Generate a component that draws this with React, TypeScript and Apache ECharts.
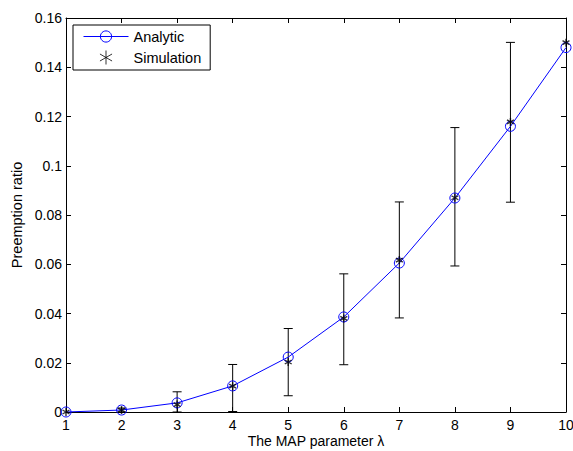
import React, { useEffect, useRef } from "react";
import * as echarts from "echarts";

const lambdas = [1, 2, 3, 4, 5, 6, 7, 8, 9, 10];
const analytic = [0, 0.0008, 0.0037, 0.0106, 0.0223, 0.0386, 0.0605, 0.0869, 0.116, 0.148];
const simulation = [0, 0.0008, 0.003, 0.0105, 0.0203, 0.038, 0.0617, 0.087, 0.1178, 0.150];
const errLow = [0, 0, 0, 0.0002, 0.0066, 0.0192, 0.0382, 0.0593, 0.0852, 0.150];
const errHigh = [0, 0.0016, 0.0082, 0.0193, 0.0339, 0.0561, 0.0853, 0.1155, 0.1501, 0.150];

const FONT = "Liberation Sans, Arial, Helvetica, sans-serif";
const STAR = "path://M5 0 L5 10 M0.67 2.5 L9.33 7.5 M0.67 7.5 L9.33 2.5";

export default function App() {
  const ref = useRef<HTMLDivElement>(null);
  useEffect(() => {
    if (!ref.current) return;
    const chart = echarts.init(ref.current, undefined, { renderer: "svg" });
    const axisCommon = {
      axisLine: { show: true, onZero: false, lineStyle: { color: "#000", width: 1 } },
      axisTick: { show: true, inside: true, length: 5, lineStyle: { color: "#000" } },
      splitLine: { show: false },
    };
    chart.setOption({
      animation: false,
      backgroundColor: "#fff",
      textStyle: { fontFamily: FONT },
      grid: { left: 66, right: 7, top: 18, bottom: 39, containLabel: false, outerBoundsMode: "none" },
      legend: {
        orient: "vertical",
        left: 73,
        top: 25,
        padding: [4, 9, 3, 10],
        itemWidth: 45,
        itemHeight: 14,
        itemGap: 4,
        borderColor: "#000",
        borderWidth: 1,
        backgroundColor: "#fff",
        lineStyle: { width: 1 },
        itemStyle: { borderWidth: 1 },
        textStyle: { fontFamily: FONT, fontSize: 14.5, color: "#000" },
        data: ["Analytic", "Simulation"],
      },
      xAxis: [
        {
          type: "value",
          min: 1,
          max: 10,
          interval: 1,
          position: "bottom",
          name: "The MAP parameter λ",
          nameLocation: "middle",
          nameGap: 22,
          nameMoveOverlap: false,
          nameTextStyle: { fontFamily: FONT, fontSize: 14, color: "#000", verticalAlign: "top" },
          axisLabel: { fontFamily: FONT, fontSize: 14, color: "#000", margin: 6 },
          ...axisCommon,
        },
        {
          type: "value",
          min: 1,
          max: 10,
          interval: 1,
          position: "top",
          axisLabel: { show: false },
          ...axisCommon,
        },
      ],
      yAxis: [
        {
          type: "value",
          min: 0,
          max: 0.16,
          interval: 0.02,
          position: "left",
          name: "Preemption ratio",
          nameLocation: "middle",
          nameGap: 42,
          nameMoveOverlap: false,
          nameRotate: 90,
          nameTextStyle: { fontFamily: FONT, fontSize: 14.5, color: "#000" },
          axisLabel: { fontFamily: FONT, fontSize: 14, color: "#000", margin: 4 },
          ...axisCommon,
        },
        {
          type: "value",
          min: 0,
          max: 0.16,
          interval: 0.02,
          position: "right",
          axisLabel: { show: false },
          ...axisCommon,
        },
      ],
      series: [
        {
          name: "Errors",
          type: "custom",
          xAxisIndex: 0,
          yAxisIndex: 0,
          data: lambdas.map((x, i) => [x, errLow[i], errHigh[i]]),
          encode: { x: 0, y: [1, 2] },
          renderItem: (params: any, api: any) => {
            const x = api.value(0);
            const lo = api.value(1);
            const hi = api.value(2);
            if (hi - lo <= 0) return null;
            const a = api.coord([x, lo]);
            const b = api.coord([x, hi]);
            const w = 4.5;
            const style = { stroke: "#000", lineWidth: 1 };
            return {
              type: "group",
              children: [
                { type: "line", shape: { x1: a[0], y1: a[1], x2: b[0], y2: b[1] }, style },
                { type: "line", shape: { x1: a[0] - w, y1: a[1], x2: a[0] + w, y2: a[1] }, style },
                { type: "line", shape: { x1: b[0] - w, y1: b[1], x2: b[0] + w, y2: b[1] }, style },
              ],
            };
          },
          z: 1,
        },
        {
          name: "Analytic",
          type: "line",
          xAxisIndex: 0,
          yAxisIndex: 0,
          data: lambdas.map((x, i) => [x, analytic[i]]),
          symbol: "circle",
          symbolSize: 10,
          showAllSymbol: true,
          lineStyle: { color: "#0000ff", width: 1 },
          itemStyle: { color: "rgba(0,0,0,0)", borderColor: "#0000ff", borderWidth: 1 },
          z: 2,
        },
        {
          name: "Simulation",
          type: "scatter",
          xAxisIndex: 0,
          yAxisIndex: 0,
          data: lambdas.map((x, i) => [x, simulation[i]]),
          symbol: STAR,
          symbolSize: 8,
          symbolKeepAspect: true,
          itemStyle: { color: "none", borderColor: "#000", borderWidth: 1.4 },
          z: 3,
        },
      ],
    });
    return () => chart.dispose();
  }, []);
  return <div ref={ref} style={{ width: 573, height: 451, position: "absolute", left: 0, top: 0 }} />;
}
